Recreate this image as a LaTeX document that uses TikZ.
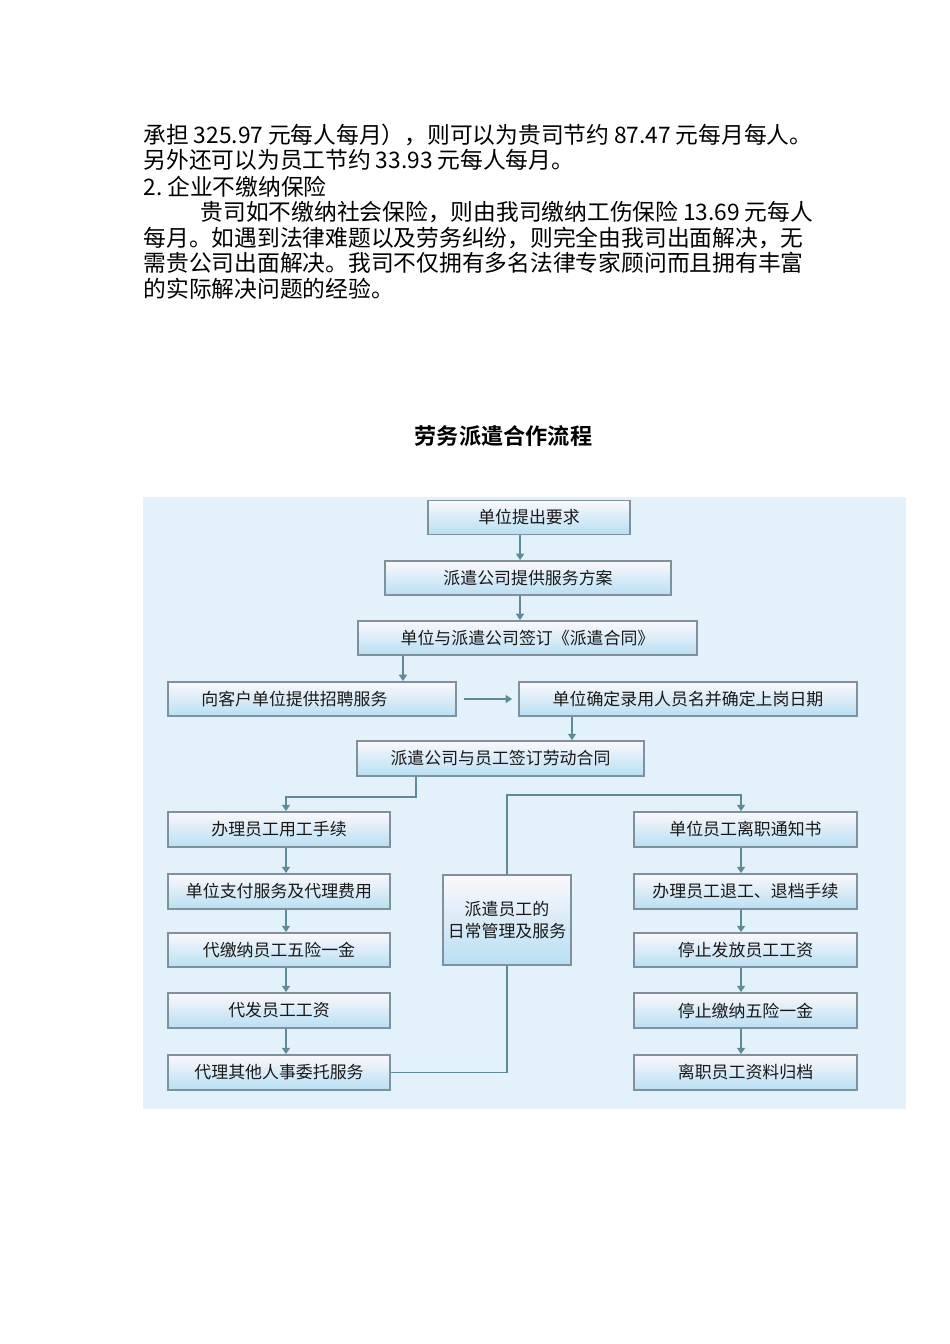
\documentclass[tikz,border=0pt]{standalone}
\usepackage{fontspec}
\setmainfont{Noto Sans CJK SC}[BoldFont={Noto Sans CJK SC Bold}]
\usetikzlibrary{arrows.meta}

\definecolor{flowbg}{HTML}{E3F1FA}
\definecolor{flowline}{HTML}{5E8B97}
\definecolor{boxedge}{HTML}{7F929B}
\definecolor{boxtop}{HTML}{FBF8FC}
\definecolor{boxbottom}{HTML}{B8DFF3}

\newcommand{\pxu}{0.6266pt}
\newcommand{\numgap}{\hspace{3pt}}

\tikzset{every picture/.style={line width=0.75pt}}
\tikzset{
  procbox/.style={draw=boxedge, line width=1.1pt, top color=boxtop, bottom color=boxbottom,
    minimum height=34*\pxu, inner sep=0pt, text=black!90,
    font=\fontsize{10.6pt}{14pt}\selectfont},
  flowarr/.style={draw=flowline, line width=1pt, -{Triangle[width=5pt,length=4pt]}},
  flowln/.style={draw=flowline, line width=1pt},
  bodytxt/.style={anchor=west, inner sep=0pt, font=\fontsize{14.26pt}{17pt}\selectfont}
}

\begin{document}
\begin{tikzpicture}[x=0.6266pt,y=0.6266pt,yscale=-1,xscale=1]
	\useasboundingbox (0,0) rectangle (950,1344);
	
	%Text lines above the chart
	\node[bodytxt] (line1) at (143,135) {承担\numgap 325.97\numgap 元每人每月），则可以为贵司节约\numgap 87.47\numgap 元每月每人。};
	\node[bodytxt] (line2) at (143,160) {另外还可以为员工节约\numgap 33.93\numgap 元每人每月。};
	\node[bodytxt] (line3) at (143,187) {2.\numgap 企业不缴纳保险};
	\node[bodytxt] (line4) at (200,212) {贵司如不缴纳社会保险，则由我司缴纳工伤保险\numgap 13.69\numgap 元每人};
	\node[bodytxt] (line5) at (143,238) {每月。如遇到法律难题以及劳务纠纷，则完全由我司出面解决，无};
	\node[bodytxt] (line6) at (143,263) {需贵公司出面解决。我司不仅拥有多名法律专家顾问而且拥有丰富};
	\node[bodytxt] (line7) at (143,289) {的实际解决问题的经验。};
	
	%Title
	\node[font=\bfseries\fontsize{13.9pt}{16pt}\selectfont] (title) at (503.5,436) {劳务派遣合作流程};
	
	%Shape: Rectangle (chart background)
	\fill[flowbg] (143,497) rectangle (906,1109);
	
	%Flowchart: Process (top chain)
	\node[procbox, minimum width=202*\pxu] (request) at (529,517.5) {单位提出要求};
	\node[procbox, minimum width=286*\pxu] (plan) at (528,578) {派遣公司提供服务方案};
	\node[procbox, minimum width=339*\pxu] (agree) at (527.5,638) {单位与派遣公司签订《派遣合同》};
	\node[procbox, minimum width=288*\pxu] (recruit) at (312,699) {向客户单位提供招聘服务\hspace*{22pt}};
	\node[procbox, minimum width=338*\pxu] (confirm) at (688,699) {单位确定录用人员名并确定上岗日期};
	\node[procbox, minimum width=287*\pxu, minimum height=35*\pxu] (labor) at (500.5,758.5) {派遣公司与员工签订劳动合同};
	
	%Flowchart: Process (left column)
	\node[procbox, minimum width=222*\pxu, minimum height=35*\pxu] (hire) at (279,829.5) {办理员工用工手续};
	\node[procbox, minimum width=222*\pxu, minimum height=35*\pxu] (pay) at (279,891.5) {单位支付服务及代理费用};
	\node[procbox, minimum width=222*\pxu] (insure) at (279,950) {代缴纳员工五险一金};
	\node[procbox, minimum width=222*\pxu, minimum height=35*\pxu] (wage) at (279,1010.5) {代发员工工资};
	\node[procbox, minimum width=222*\pxu, minimum height=35*\pxu] (other) at (279,1072.5) {代理其他人事委托服务};
	
	%Flowchart: Process (middle)
	\node[procbox, minimum width=128*\pxu, minimum height=90*\pxu, align=center] (daily) at (507,920) {派遣员工的\\日常管理及服务};
	
	%Flowchart: Process (right column)
	\node[procbox, minimum width=223*\pxu, minimum height=35*\pxu] (notice) at (745.5,829.5) {单位员工离职通知书};
	\node[procbox, minimum width=223*\pxu, minimum height=35*\pxu] (quit) at (745.5,891.5) {办理员工退工、退档手续};
	\node[procbox, minimum width=223*\pxu] (stopwage) at (745.5,950) {停止发放员工工资};
	\node[procbox, minimum width=223*\pxu, minimum height=35*\pxu] (stopins) at (745.5,1010.5) {停止缴纳五险一金};
	\node[procbox, minimum width=223*\pxu, minimum height=35*\pxu] (archive) at (745.5,1072.5) {离职员工资料归档};
	
	%Straight Lines (top chain)
	\draw[flowarr] ([xshift=-5.6pt]request.south) -- ([xshift=-5.6pt]request.south |- plan.north);
	\draw[flowarr] ([xshift=-5pt]plan.south) -- ([xshift=-5pt]plan.south |- agree.north);
	\draw[flowarr] ([xshift=57pt]recruit.north |- agree.south) -- ([xshift=57pt]recruit.north);
	\draw[flowarr] ([xshift=4.4pt]recruit.east) -- ([xshift=-3.8pt]confirm.west);
	\draw[flowarr] ([xshift=44.8pt]labor.north |- confirm.south) -- ([xshift=44.8pt]labor.north);
	
	%Connectors (branches)
	\draw[flowarr] ([xshift=-52.9pt]labor.south) -- ++(0,20) -| ([xshift=4.4pt]hire.north);
	\draw[flowarr] (daily.north) |- ([xshift=-2.8pt,yshift=-10pt]notice.north) -- ([xshift=-2.8pt]notice.north);
	\draw[flowln] (other.east) -| (daily.south);
	
	%Straight Lines (left column)
	\draw[flowarr] ([xshift=4.4pt]hire.south) -- ([xshift=4.4pt]pay.north);
	\draw[flowarr] ([xshift=4.4pt]pay.south) -- ([xshift=4.4pt]insure.north);
	\draw[flowarr] ([xshift=4.4pt]insure.south) -- ([xshift=4.4pt]wage.north);
	\draw[flowarr] ([xshift=4.4pt]wage.south) -- ([xshift=4.4pt]other.north);
	
	%Straight Lines (right column)
	\draw[flowarr] ([xshift=-2.8pt]notice.south) -- ([xshift=-2.8pt]quit.north);
	\draw[flowarr] ([xshift=-2.8pt]quit.south) -- ([xshift=-2.8pt]stopwage.north);
	\draw[flowarr] ([xshift=-2.8pt]stopwage.south) -- ([xshift=-2.8pt]stopins.north);
	\draw[flowarr] ([xshift=-2.8pt]stopins.south) -- ([xshift=-2.8pt]archive.north);
	
\end{tikzpicture}
\end{document}
